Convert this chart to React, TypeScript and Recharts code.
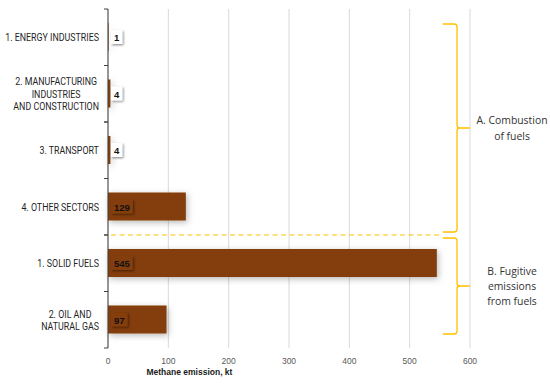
import React from 'react';
import { BarChart, Bar, XAxis, YAxis, CartesianGrid, LabelList, ReferenceArea } from 'recharts';

const categories = [
  '1. ENERGY INDUSTRIES',
  '2. MANUFACTURING\nINDUSTRIES\nAND CONSTRUCTION',
  '3. TRANSPORT',
  '4. OTHER SECTORS',
  '1. SOLID FUELS',
  '2. OIL AND\nNATURAL GAS',
];
const emissions = [1, 4, 4, 129, 545, 97];
const xTicks = [0, 100, 200, 300, 400, 500, 600];
const groupALines = ['A. Combustion', 'of fuels'];
const groupBLines = ['B. Fugitive', 'emissions', 'from fuels'];
const xTitle = 'Methane emission, kt';

const data = categories.map((c, i) => ({ category: c, value: emissions[i] }));

const W = 550;
const H = 384;
const MARGIN = { top: 9, right: 80, bottom: 10, left: 0 };
const XAXIS_H = 26;
const BAND = (H - MARGIN.top - MARGIN.bottom - XAXIS_H) / categories.length;

const BAR = '#843C0C';
const GOLD = '#FFC000';
const NARROW = "Roboto, sans-serif";
const SQUEEZE = 0.885;
const SANS = "'Liberation Sans', Arial, sans-serif";

let ctx: CanvasRenderingContext2D | null = null;
function measure(text: string, font: string): number {
  if (!ctx) {
    const c = document.createElement('canvas');
    ctx = c.getContext('2d');
  }
  if (!ctx) return text.length * 5;
  ctx.font = font;
  return ctx.measureText(text).width;
}

const YTick = (props: any) => {
  const { x, y, payload } = props;
  const lines = String(payload.value).split('\n');
  const fs = 10;
  const font = `${fs}px ${NARROW}`;
  const maxW = Math.max(...lines.map((l) => measure(l, font))) * SQUEEZE;
  const right = x - 1;
  const cx = right - maxW / 2;
  const lh = 12.5;
  const y0 = y - ((lines.length - 1) * lh) / 2;
  return (
    <g>
      <line x1={x + 4} x2={x + 8} y1={y - BAND / 2} y2={y - BAND / 2} stroke="#404040" strokeWidth={1} />
      <line x1={x + 4} x2={x + 8} y1={y + BAND / 2} y2={y + BAND / 2} stroke="#404040" strokeWidth={1} />
      <text
        fontSize={fs}
        fontFamily={NARROW}
        fill="#1f1f1f"
        textAnchor="middle"
        dominantBaseline="central"
        transform={`translate(${cx},0) scale(${SQUEEZE},1) translate(${-cx},0)`}
      >
        {lines.map((l, i) => (
          <tspan key={i} x={cx} y={y0 + i * lh}>
            {l}
          </tspan>
        ))}
      </text>
    </g>
  );
};

const BarLabel = (props: any) => {
  const { x, y, width, height, value } = props;
  const text = String(value);
  const fs = 9.5;
  const font = `bold ${fs}px ${SANS}`;
  const w = measure(text, font) + 6;
  const bh = 14;
  const bx = x + 3;
  const by = y + height / 2 - bh / 2;
  const small = width < w + 6;
  return (
    <g>
      <rect x={bx} y={by} width={w} height={bh} fill={small ? '#ffffff' : BAR} filter="url(#lblShadow)" />
      <text
        x={bx + w / 2}
        y={y + height / 2 + 0.5}
        textAnchor="middle"
        dominantBaseline="central"
        fontWeight="bold"
        fontSize={fs}
        fontFamily={SANS}
        fill="#111111"
      >
        {text}
      </text>
    </g>
  );
};

const BarShape = (props: any) => {
  const { x, y, width, height } = props;
  return <rect x={x} y={y} width={Math.max(0, width)} height={height} fill={BAR} filter="url(#barShadow)" />;
};

const makeBrace = (lines: string[], topInset: number, botInset: number, spacing: number) => (props: any) => {
  const { x, y, width, height } = props;
  const left = x;
  const right = x + width;
  const vert = right - 13;
  const top = y + topInset;
  const bot = y + height - botInset;
  const mid = (top + bot) / 2;
  const r = 3;
  const d = [
    `M ${left} ${top} L ${vert - r} ${top} Q ${vert} ${top} ${vert} ${top + r}`,
    `L ${vert} ${mid - r} Q ${vert} ${mid} ${vert + r} ${mid} L ${right} ${mid}`,
    `M ${right} ${mid} L ${vert + r} ${mid} Q ${vert} ${mid} ${vert} ${mid + r}`,
    `L ${vert} ${bot - r} Q ${vert} ${bot} ${vert - r} ${bot} L ${left} ${bot}`,
  ].join(' ');
  const tx = right + 42;
  const t0 = mid - ((lines.length - 1) * spacing) / 2;
  return (
    <g>
      <path d={d} fill="none" stroke={GOLD} strokeWidth={1.3} />
      <text fontSize={10.4} fontFamily="'Open Sans', sans-serif" fill="#333333" textAnchor="middle" dominantBaseline="central">
        {lines.map((l, i) => (
          <tspan key={i} x={tx} y={t0 + i * spacing}>
            {l}
          </tspan>
        ))}
      </text>
    </g>
  );
};

const DashedSeparator = (props: any) => {
  const { x, y, width } = props;
  return <line x1={x} x2={x + width} y1={y} y2={y} stroke={GOLD} strokeWidth={1} strokeDasharray="5 3.5" />;
};

const XTitle = (props: any) => {
  const vb = props.viewBox || {};
  const cx = vb.x + vb.width * 0.225;
  return (
    <text x={cx} y={H - 9} textAnchor="middle" fontWeight="bold" fontSize={8.5} fontFamily={SANS} fill="#1a1a1a">
      {xTitle}
    </text>
  );
};

export default function App() {
  return (
    <div style={{ position: 'absolute', left: 0, top: 0, width: W, height: H, background: '#fff' }}>
      <BarChart width={W} height={H} data={data} layout="vertical" margin={MARGIN} barSize={28}>
        <defs>
          <filter id="barShadow" filterUnits="userSpaceOnUse" x={0} y={0} width={W} height={H}>
            <feDropShadow dx={1.5} dy={2} stdDeviation={3} floodColor="#000" floodOpacity={0.28} />
          </filter>
          <filter id="lblShadow" filterUnits="userSpaceOnUse" x={0} y={0} width={W} height={H}>
            <feDropShadow dx={1.2} dy={1.2} stdDeviation={0.8} floodColor="#000" floodOpacity={0.45} />
          </filter>
        </defs>
        <CartesianGrid horizontal={false} stroke="#d9d9d9" strokeWidth={1} />
        <XAxis
          type="number"
          domain={[0, 600]}
          ticks={xTicks}
          axisLine={false}
          tickLine={false}
          tickSize={0}
          tickMargin={10}
          height={XAXIS_H}
          tick={{ fontSize: 8.5, fontFamily: SANS, fill: '#595959' }}
          label={<XTitle />}
        />
        <YAxis
          type="category"
          dataKey="category"
          width={108}
          tickSize={0}
          tickMargin={8}
          tickLine={false}
          axisLine={{ stroke: '#404040', strokeWidth: 1 }}
          tick={<YTick />}
          interval={0}
        />
        <ReferenceArea
          x1={5}
          x2={550}
          y1={categories[4]}
          y2={categories[4]}
          shape={<DashedSeparator />}
          ifOverflow="visible"
        />
        <Bar dataKey="value" isAnimationActive={false} shape={<BarShape />}>
          <LabelList dataKey="value" content={<BarLabel />} />
        </Bar>
        <ReferenceArea
          x1={555}
          x2={600}
          y1={categories[0]}
          y2={categories[3]}
          shape={makeBrace(groupALines, 15, 3, 16)}
          ifOverflow="visible"
        />
        <ReferenceArea
          x1={555}
          x2={600}
          y1={categories[4]}
          y2={categories[5]}
          shape={makeBrace(groupBLines, 3, 14, 15)}
          ifOverflow="visible"
        />
      </BarChart>
    </div>
  );
}
